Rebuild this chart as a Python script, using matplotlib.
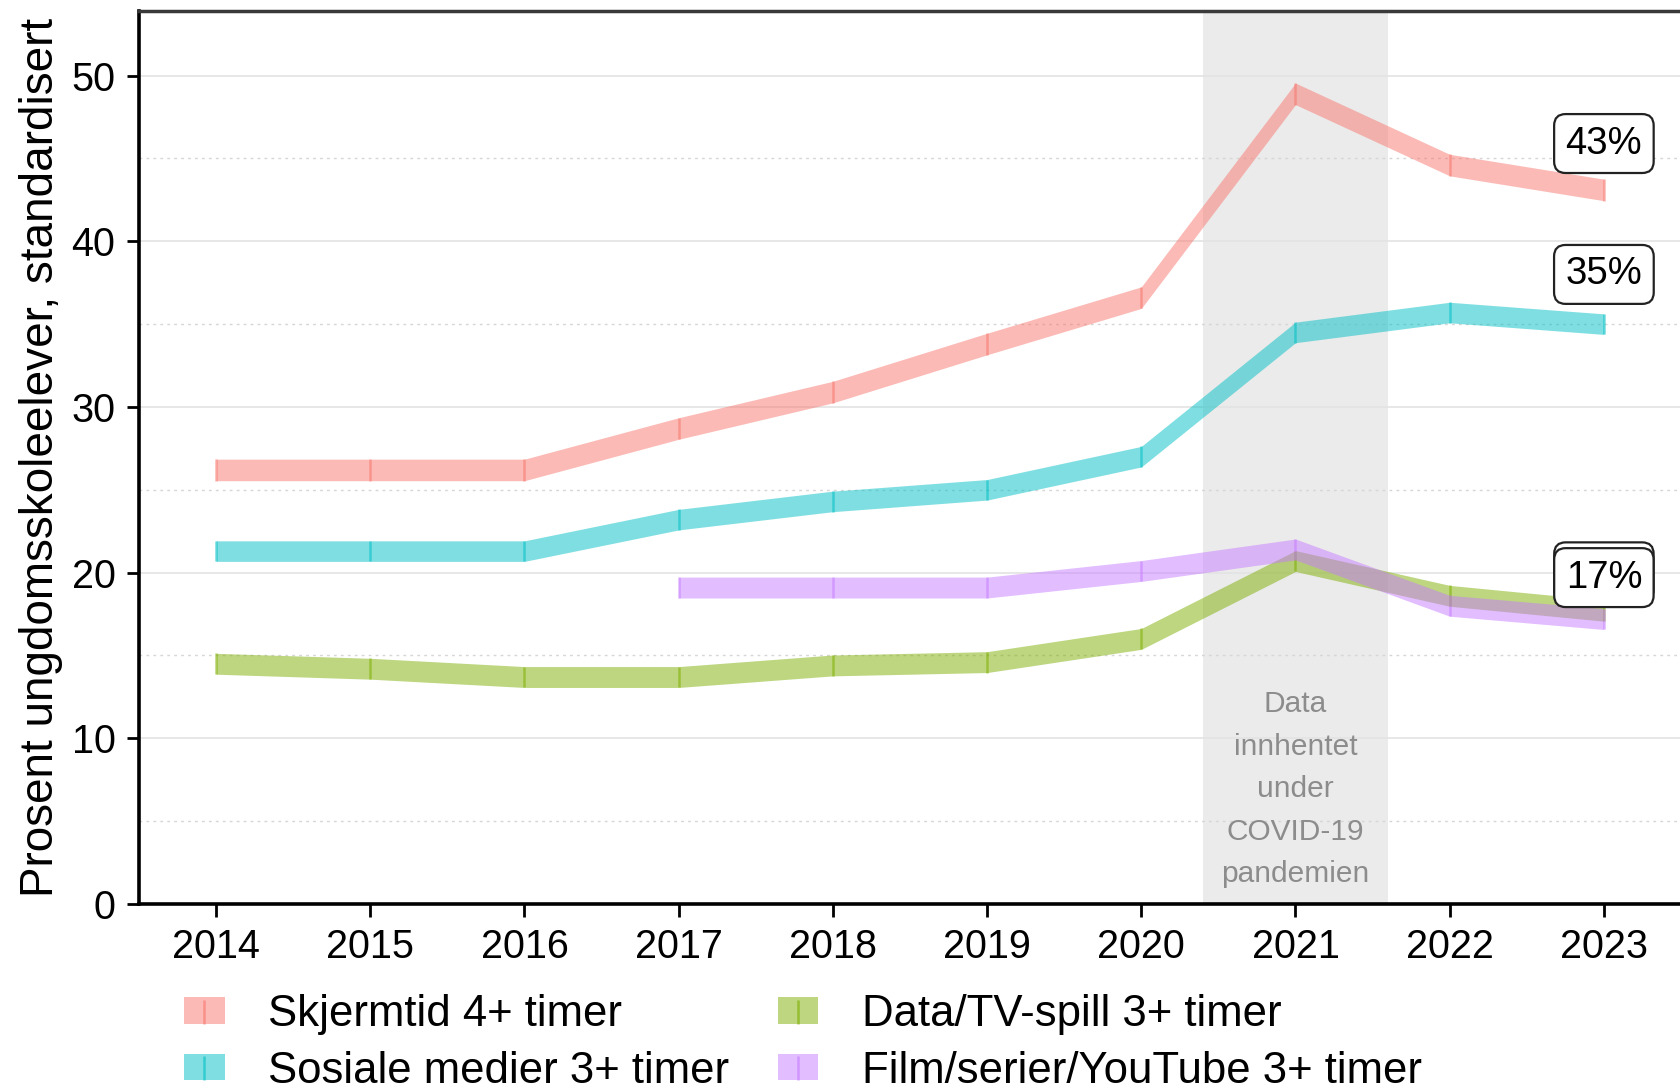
import matplotlib
matplotlib.use("Agg")
import matplotlib.pyplot as plt
from matplotlib.patches import Patch
from matplotlib.lines import Line2D
from matplotlib.legend_handler import HandlerTuple
from matplotlib.ticker import MultipleLocator

plt.rcParams['font.family'] = ['Liberation Sans', 'DejaVu Sans']

# ---------------- data ----------------
years = [2014, 2015, 2016, 2017, 2018, 2019, 2020, 2021, 2022, 2023]
film_years = [2017, 2018, 2019, 2020, 2021, 2022, 2023]

skjermtid = [26.2, 26.2, 26.2, 28.7, 30.9, 33.8, 36.6, 48.9, 44.6, 43.1]
sosiale = [21.3, 21.3, 21.3, 23.2, 24.3, 25.0, 27.0, 34.5, 35.7, 35.0]
spill = [14.5, 14.2, 13.7, 13.7, 14.4, 14.6, 16.0, 20.7, 18.6, 17.7]
film = [19.1, 19.1, 19.1, 20.1, 21.4, 18.0, 17.2]

half_width = [0.65, 0.62, 0.63, 0.63]

series_names = ["Skjermtid 4+ timer", "Sosiale medier 3+ timer",
                "Data/TV-spill 3+ timer", "Film/serier/YouTube 3+ timer"]
colors = ["#F8766D", "#00BFC4", "#7CAE00", "#C77CFF"]

end_labels = ["43%", "35%", "17%", "17%"]
end_label_y = [45.9, 38.0, 20.05, 19.7]

covid_start, covid_end = 2020.4, 2021.6
covid_text = "Data\ninnhentet\nunder\nCOVID-19\npandemien"
ylabel = "Prosent ungdomsskoleelever, standardisert"

# ---------------- figure ----------------
fig = plt.figure(figsize=(16.81, 10.91), dpi=100)
ax = fig.add_axes([139 / 1681, 1 - 904 / 1091, 1 - 139 / 1681, (904 - 11) / 1091])

ax.set_xlim(2013.5, 2023.5)
ax.set_ylim(0, 53.9)

ax.axvspan(covid_start, covid_end, color="#ebebeb", zorder=0, lw=0)

ax.yaxis.set_major_locator(MultipleLocator(10))
ax.yaxis.set_minor_locator(MultipleLocator(5))
ax.grid(axis='y', which='major', color='#e3e3e3', lw=1.2, zorder=0.5)
ax.grid(axis='y', which='minor', color='#d6d6d6', lw=1.0, ls=(0, (2, 3)), zorder=0.5)
ax.set_axisbelow(True)

all_x = [years, years, years, film_years]
all_y = [skjermtid, sosiale, spill, film]

for xs, ys, hw, c in zip(all_x, all_y, half_width, colors):
    lo = [v - hw for v in ys]
    hi = [v + hw for v in ys]
    ax.fill_between(xs, lo, hi, color=c, alpha=0.5, lw=0, zorder=2)
    ax.vlines(xs, lo, hi, color=c, alpha=0.55, lw=1.8, zorder=2.1)

for lab, yv in zip(end_labels, end_label_y):
    ax.text(2023, yv, lab, fontsize=27.5, ha='center', va='center', zorder=5,
            bbox=dict(boxstyle='round,pad=0.3,rounding_size=0.3', fc='white',
                      ec='#222222', lw=1.6))

ax.text(2021, 6.92, covid_text, fontsize=21.5, color='#8c8c8c', ha='center',
        va='center', linespacing=1.66, multialignment='center', zorder=3)

ax.set_xticks(years)
ax.set_xticklabels([str(y) for y in years])
ax.tick_params(axis='both', which='major', labelsize=28.5, length=9, width=2,
               color='black', pad=8)
ax.tick_params(axis='y', which='minor', length=0)

for s in ['left', 'bottom']:
    ax.spines[s].set_linewidth(2.6)
    ax.spines[s].set_color('black')
ax.spines['right'].set_visible(False)
ax.spines['top'].set_color('#3a3a3a')
ax.spines['top'].set_linewidth(2.5)

ax.set_ylabel(ylabel, fontsize=33, labelpad=6)

handles = []
for c in colors:
    handles.append((Patch(facecolor=c, alpha=0.5, lw=0),
                    Line2D([], [], color=c, alpha=0.6, marker='|', ls='None',
                           markersize=17, markeredgewidth=1.8)))
fig.legend(handles, series_names,
           handler_map={tuple: HandlerTuple(ndivide=1)},
           loc='upper left', bbox_to_anchor=(184 / 1681, 1 - 994 / 1091),
           ncol=2, frameon=False, fontsize=31.5, borderpad=0, borderaxespad=0,
           handlelength=0.93, handleheight=0.55, handletextpad=1.0,
           columnspacing=1.1, labelspacing=0.36)

fig.savefig("out.png", dpi=100)
